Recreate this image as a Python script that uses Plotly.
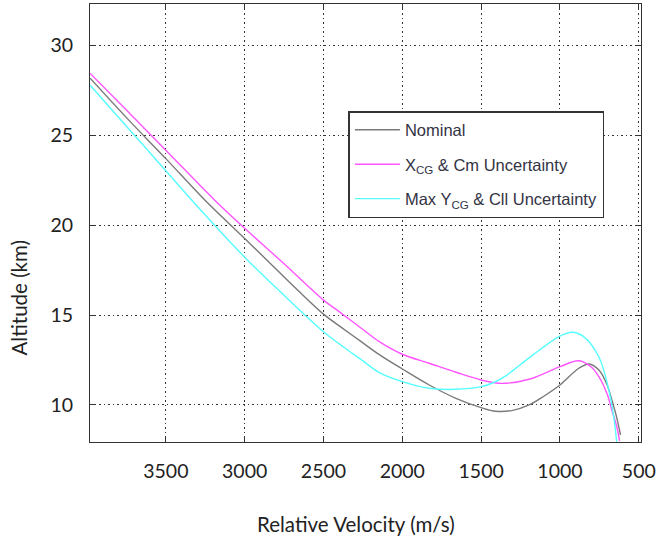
import plotly.graph_objects as go

# Relative velocity (m/s) and altitude (km) for each case
vel_nominal = [3980, 3750, 3500, 3253, 3000, 2750, 2500, 2400, 2250, 2146, 2000, 1829, 1660, 1500, 1407, 1300, 1196, 1100, 1000, 880, 816, 753, 700, 671, 640, 616]
alt_nominal = [28.17, 25.98, 23.70, 21.40, 19.26, 17.12, 15.05, 14.40, 13.45, 12.80, 12.00, 11.11, 10.37, 9.85, 9.65, 9.70, 10.00, 10.50, 11.11, 12.04, 12.28, 11.94, 11.10, 10.28, 9.30, 8.33]

vel_xcg = [3980, 3750, 3500, 3190, 3000, 2750, 2500, 2399, 2250, 2146, 2000, 1829, 1660, 1500, 1366, 1196, 1000, 880, 800, 753, 700, 671, 640, 622]
alt_xcg = [28.44, 26.40, 24.17, 21.39, 19.83, 17.85, 15.83, 15.18, 14.20, 13.52, 12.82, 12.32, 11.82, 11.39, 11.20, 11.43, 12.13, 12.46, 12.10, 11.57, 10.60, 9.72, 8.80, 8.00]

vel_ycg = [3980, 3750, 3500, 3335, 3000, 2750, 2500, 2399, 2250, 2146, 2000, 1829, 1660, 1500, 1420, 1344, 1260, 1175, 1000, 922, 850, 753, 690, 660, 635]
alt_ycg = [27.78, 25.50, 23.03, 21.39, 18.22, 16.10, 14.07, 13.39, 12.45, 11.80, 11.30, 10.93, 10.87, 11.02, 11.25, 11.62, 12.18, 12.76, 13.83, 14.04, 13.80, 12.67, 10.83, 9.40, 7.50]

x_ticks = [3500, 3000, 2500, 2000, 1500, 1000, 500]
y_ticks = [10, 15, 20, 25, 30]

LINE_SHAPE = dict(width=1.4, shape="spline", smoothing=1.0)

fig = go.Figure()
fig.add_trace(go.Scatter(x=vel_nominal, y=alt_nominal, mode="lines", name="Nominal",
                         line=dict(color="#7a7a7a", **LINE_SHAPE), legendgroup="a"))
fig.add_trace(go.Scatter(x=vel_xcg, y=alt_xcg, mode="lines", name="X<sub>CG</sub> & Cm Uncertainty",
                         line=dict(color="#ff55ff", **LINE_SHAPE), legendgroup="b"))
fig.add_trace(go.Scatter(x=vel_ycg, y=alt_ycg, mode="lines", name="Max Y<sub>CG</sub> & Cll Uncertainty",
                         line=dict(color="#55ffff", **LINE_SHAPE), legendgroup="c"))

axis_common = dict(
    showline=True, linecolor="#333333", linewidth=1, mirror="ticks",
    ticks="inside", ticklen=5, tickcolor="#333333",
    showgrid=True, gridcolor="#333333", gridwidth=1, griddash="1.5px,3px",
    zeroline=False,
    tickfont=dict(family="Lato", size=19.5, color="#222222"),
    ticklabelstandoff=12,
)

fig.update_xaxes(range=[3981, 486], tickvals=x_ticks, ticktext=[str(v) for v in x_ticks], **axis_common)
fig.update_yaxes(range=[7.94, 32.3], tickvals=y_ticks, ticktext=[str(v) for v in y_ticks], **axis_common)

title_font = dict(family="Lato", size=20.5, color="#222222")
fig.add_annotation(text="Relative Velocity (m/s)", xref="paper", yref="paper",
                   x=0.483, y=-0.187, xanchor="center", yanchor="middle",
                   showarrow=False, font=title_font)
fig.add_annotation(text="Altitude (km)", xref="paper", yref="paper",
                   x=-0.128, y=0.331, xanchor="center", yanchor="middle",
                   textangle=-90, showarrow=False, font=title_font)

fig.update_layout(
    width=659, height=539,
    margin=dict(l=90, r=18, t=4, b=97),
    paper_bgcolor="white", plot_bgcolor="white",
    showlegend=True,
    legend=dict(x=0.469, y=0.7557, xanchor="left", yanchor="top",
                bgcolor="white", bordercolor="#333333", borderwidth=1.5,
                font=dict(family="Liberation Sans", size=16.5, color="#333344"),
                traceorder="grouped", tracegroupgap=10, itemwidth=45),
)

fig.write_html("out.html")
